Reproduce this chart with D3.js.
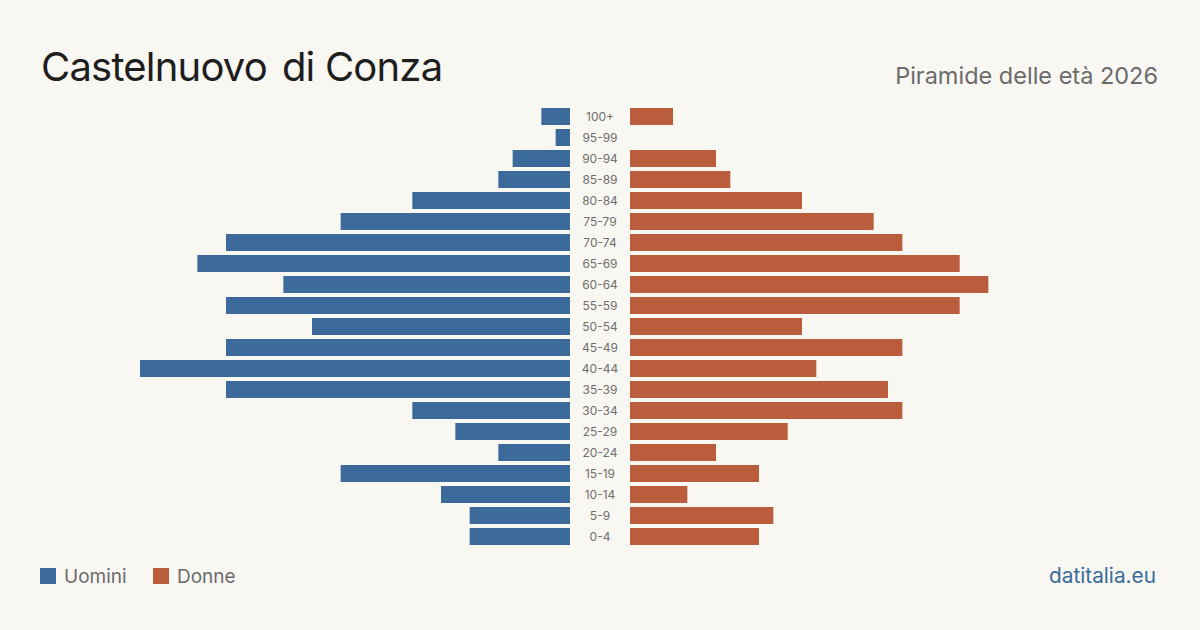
<!DOCTYPE html>
<html>
<head>
<meta charset="utf-8">
<script src="https://cdn.jsdelivr.net/npm/d3@7"></script>
<style>
  html, body { margin: 0; padding: 0; background: #f9f7f2; }
  svg { display: block; font-family: Inter, "Noto Sans", sans-serif; }
</style>
</head>
<body>
<svg id="chart" width="1200" height="630"></svg>
<script>
// fasce d'età, dall'alto verso il basso
const ageGroups = ['100+', '95-99', '90-94', '85-89', '80-84', '75-79', '70-74', '65-69', '60-64', '55-59',
  '50-54', '45-49', '40-44', '35-39', '30-34', '25-29', '20-24', '15-19', '10-14', '5-9', '0-4'];
const men = [2, 1, 4, 5, 11, 16, 24, 26, 20, 24, 18, 24, 30, 24, 11, 8, 5, 16, 9, 7, 7];
const women = [3, 0, 6, 7, 12, 17, 19, 23, 25, 23, 12, 19, 13, 18, 19, 11, 6, 9, 4, 10, 9];

const titleParts = ['Castelnuovo', 'di Conza'];
const subtitle = 'Piramide delle età 2026';
const legendItems = ['Uomini', 'Donne'];
const source = 'datitalia.eu';

const colMen = '#3b6a9b';
const colWomen = '#b95d3c';

const svg = d3.select('#chart');

svg.append('rect').attr('width', 1200).attr('height', 630).attr('fill', '#f9f7f2');

// scale
const y = d3.scaleBand()
  .domain(ageGroups)
  .range([106, 547])
  .paddingInner(4 / 21)
  .paddingOuter(2 / 21);

const xMen = d3.scaleLinear().domain([0, 30]).range([570, 140]);
const xWomen = d3.scaleLinear().domain([0, 30]).range([630, 1060]);

// barre uomini
svg.append('g')
  .selectAll('rect')
  .data(ageGroups.map((a, i) => ({ age: a, v: men[i] })))
  .join('rect')
  .attr('x', d => xMen(d.v))
  .attr('y', d => y(d.age))
  .attr('width', d => xMen(0) - xMen(d.v))
  .attr('height', y.bandwidth())
  .attr('fill', colMen);

// barre donne
svg.append('g')
  .selectAll('rect')
  .data(ageGroups.map((a, i) => ({ age: a, v: women[i] })))
  .join('rect')
  .attr('x', xWomen(0))
  .attr('y', d => y(d.age))
  .attr('width', d => xWomen(d.v) - xWomen(0))
  .attr('height', y.bandwidth())
  .attr('fill', colWomen);

// etichette età
svg.append('g')
  .selectAll('text')
  .data(ageGroups)
  .join('text')
  .attr('x', 600)
  .attr('y', d => y(d) + y.bandwidth() / 2)
  .attr('dy', '0.35em')
  .attr('text-anchor', 'middle')
  .attr('font-size', 12)
  .attr('fill', '#6e6e6e')
  .text(d => d);

// titolo (spazio un po' più largo dopo "Castelnuovo")
const titleEl = svg.append('text')
  .attr('x', 41)
  .attr('y', 81)
  .attr('font-size', 40)
  .attr('letter-spacing', -0.8)
  .attr('fill', '#1e1e1e');
titleEl.append('tspan').text(titleParts[0]);
titleEl.append('tspan').attr('dx', 15).text(titleParts[1]);

svg.append('text')
  .attr('x', 1158)
  .attr('y', 84)
  .attr('text-anchor', 'end')
  .attr('font-size', 23.5)
  .attr('fill', '#6b6b6b')
  .text(subtitle);

// legenda
const legend = svg.append('g');
const legendX = [40, 153];
legendItems.forEach((name, i) => {
  legend.append('rect')
    .attr('x', legendX[i])
    .attr('y', 568)
    .attr('width', 16)
    .attr('height', 16)
    .attr('fill', i === 0 ? colMen : colWomen);
  legend.append('text')
    .attr('x', legendX[i] + 24)
    .attr('y', 583)
    .attr('font-size', 19)
    .attr('fill', '#6b6b6b')
    .text(name);
});

svg.append('text')
  .attr('x', 1156)
  .attr('y', 583)
  .attr('text-anchor', 'end')
  .attr('font-size', 20.8)
  .attr('fill', '#3b6a9b')
  .text(source);
</script>
</body>
</html>
